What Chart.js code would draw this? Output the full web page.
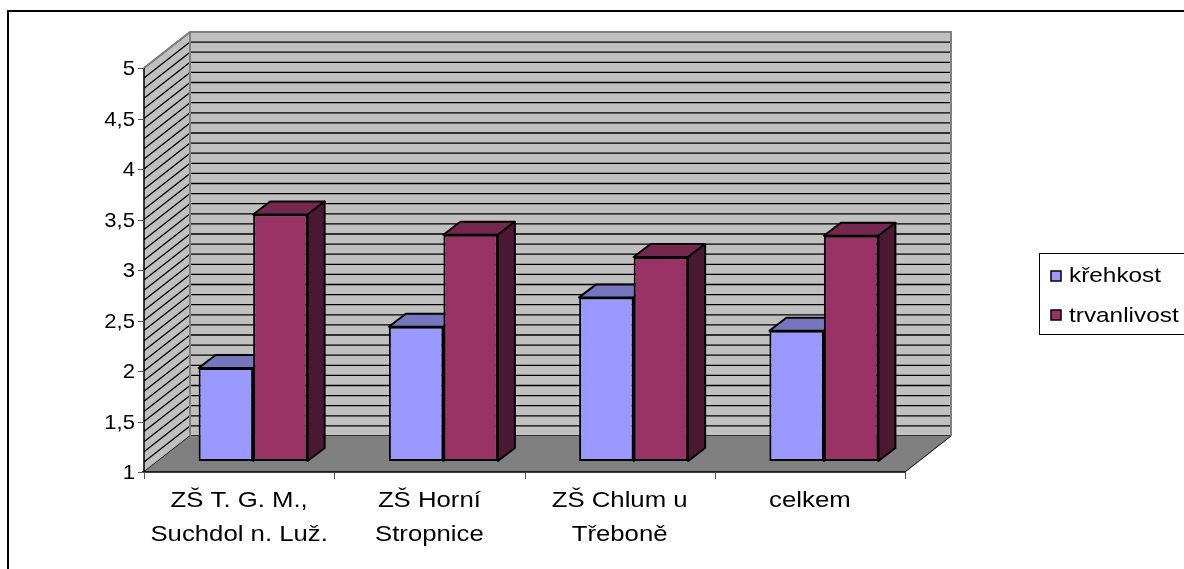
<!DOCTYPE html>
<html>
<head>
<meta charset="utf-8">
<script src="https://cdn.jsdelivr.net/npm/chart.js@4/dist/chart.umd.min.js"></script>
<style>
  html, body { margin: 0; padding: 0; background: #ffffff; }
  #wrap { width: 1184px; height: 569px; }
</style>
</head>
<body>
<div id="wrap"><canvas id="c" width="1184" height="569"></canvas></div>
<script>
// Schools (two-line labels) and the overall average
const categories = [
  ['ZŠ T. G. M.,', 'Suchdol n. Luž.'],
  ['ZŠ Horní', 'Stropnice'],
  ['ZŠ Chlum u', 'Třeboně'],
  ['celkem']
];
const seriesNames = ['křehkost', 'trvanlivost'];
const krehkost = [1.92, 2.33, 2.62, 2.29];
const trvanlivost = [3.44, 3.24, 3.02, 3.23];
const yTickValues = [1, 1.5, 2, 2.5, 3, 3.5, 4, 4.5, 5];
const yTickLabels = ['1', '1,5', '2', '2,5', '3', '3,5', '4', '4,5', '5'];

const FRONT = ['#9999FF', '#993366'];
const TOP = ['#7676BF', '#76274E'];
const SIDE = ['#4C4C80', '#4C1933'];

// oblique projection of the box
const WALL_DX = 46, WALL_DY = -36;     // full depth of the plot box
const BAR_DX = 14, BAR_DY = -11;       // bar front faces sit a bit into the box
const DEPTH_DX = 17, DEPTH_DY = -13;   // thickness of each bar

const FONT = '"Liberation Sans", Arial, sans-serif';

function stretchedText(ctx, text, x, y, size, sx, align) {
  ctx.save();
  ctx.font = size + 'px ' + FONT;
  ctx.textAlign = align;
  ctx.textBaseline = 'alphabetic';
  ctx.fillStyle = '#000';
  ctx.translate(x, y);
  ctx.scale(sx, 1);
  ctx.fillText(text, 0, 0);
  ctx.restore();
}

function poly(ctx, pts, fill, stroke, lw) {
  ctx.beginPath();
  ctx.moveTo(pts[0][0], pts[0][1]);
  for (let i = 1; i < pts.length; i++) ctx.lineTo(pts[i][0], pts[i][1]);
  ctx.closePath();
  if (fill) { ctx.fillStyle = fill; ctx.fill(); }
  if (stroke) { ctx.strokeStyle = stroke; ctx.lineWidth = lw || 1; ctx.stroke(); }
}

const box3d = {
  id: 'box3d',
  beforeDraw(chart) {
    const ctx = chart.ctx;
    const { left, right, top, bottom } = chart.chartArea;
    const y = chart.scales.y;
    const x = chart.scales.x;
    ctx.save();
    ctx.fillStyle = '#ffffff';
    ctx.fillRect(0, 0, chart.width, chart.height);

    // outer frame
    ctx.strokeStyle = '#000';
    ctx.lineWidth = 2;
    ctx.strokeRect(8, 11, 1300, 700);

    // back wall
    poly(ctx, [[left + WALL_DX, top + WALL_DY], [right + WALL_DX, top + WALL_DY],
               [right + WALL_DX, bottom + WALL_DY], [left + WALL_DX, bottom + WALL_DY]], '#C0C0C0');
    // side wall
    poly(ctx, [[left, top], [left + WALL_DX, top + WALL_DY],
               [left + WALL_DX, bottom + WALL_DY], [left, bottom]], '#C0C0C0');

    // minor grid every 0.1
    ctx.strokeStyle = '#000';
    ctx.lineWidth = 1.3;
    for (let k = 0; k <= 40; k++) {
      const v = 1 + k * 0.1;
      const py = y.getPixelForValue(v);
      ctx.beginPath();
      ctx.moveTo(left + WALL_DX, py + WALL_DY);
      ctx.lineTo(right + WALL_DX, py + WALL_DY);
      ctx.moveTo(left, py);
      ctx.lineTo(left + WALL_DX, py + WALL_DY);
      ctx.stroke();
    }

    // wall edges
    ctx.strokeStyle = '#808080';
    ctx.lineWidth = 2;
    ctx.beginPath();
    ctx.moveTo(left, top);
    ctx.lineTo(left + WALL_DX, top + WALL_DY);
    ctx.lineTo(right + WALL_DX, top + WALL_DY);
    ctx.lineTo(right + WALL_DX, bottom + WALL_DY);
    ctx.moveTo(left + WALL_DX, top + WALL_DY);
    ctx.lineTo(left + WALL_DX, bottom + WALL_DY);
    ctx.stroke();

    // floor
    poly(ctx, [[left, bottom], [left + WALL_DX, bottom + WALL_DY],
               [right + WALL_DX, bottom + WALL_DY], [right, bottom]], '#808080');
    ctx.strokeStyle = '#000';
    ctx.lineWidth = 1;
    ctx.beginPath();
    ctx.moveTo(right, bottom);
    ctx.lineTo(right + WALL_DX, bottom + WALL_DY);
    ctx.stroke();

    // value axis
    ctx.strokeStyle = '#000';
    ctx.lineWidth = 1.5;
    ctx.beginPath();
    ctx.moveTo(left, top);
    ctx.lineTo(left, bottom);
    ctx.moveTo(left - 2, bottom);
    ctx.lineTo(right, bottom);
    ctx.stroke();
    ctx.strokeStyle = '#555';
    ctx.lineWidth = 1;
    yTickValues.forEach((v, i) => {
      const py = Math.round(y.getPixelForValue(v)) + 0.5;
      ctx.beginPath();
      ctx.moveTo(left - 6, py);
      ctx.lineTo(left, py);
      ctx.stroke();
      ctx.save();
      ctx.font = '21px ' + FONT;
      ctx.textAlign = 'right';
      ctx.textBaseline = 'middle';
      ctx.fillStyle = '#000';
      ctx.translate(left - 9, py + 1);
      ctx.scale(1.05, 1);
      ctx.fillText(yTickLabels[i], 0, 0);
      ctx.restore();
    });

    // category ticks and labels
    const n = categories.length;
    const step = (right - left) / n;
    for (let i = 0; i <= n; i++) {
      const px = Math.round(left + i * step) + 0.5;
      ctx.beginPath();
      ctx.moveTo(px, bottom);
      ctx.lineTo(px, bottom + 7);
      ctx.stroke();
    }
    categories.forEach((lines, i) => {
      const cx = x.getPixelForValue(i);
      lines.forEach((t, j) => stretchedText(ctx, t, cx, 507 + j * 34, 22, 1.17, 'center'));
    });

    // legend
    ctx.fillStyle = '#fff';
    ctx.fillRect(1039, 253, 200, 81);
    ctx.strokeStyle = '#000';
    ctx.lineWidth = 1;
    ctx.strokeRect(1039.5, 253.5, 200, 81);
    seriesNames.forEach((name, i) => {
      const sy = 271 + i * 39;
      ctx.fillStyle = FRONT[i];
      ctx.fillRect(1051, sy, 10, 10);
      ctx.strokeStyle = '#000';
      ctx.lineWidth = 1.5;
      ctx.strokeRect(1051, sy, 10, 10);
      stretchedText(ctx, name, 1069, 282 + i * 39.5, 21, 1.16, 'left');
    });
    ctx.restore();
  },
  beforeDatasetsDraw(chart) {
    const ctx = chart.ctx;
    ctx.save();
    ctx.lineJoin = 'round';
    chart.data.datasets.forEach((ds, di) => {
      const meta = chart.getDatasetMeta(di);
      meta.data.forEach((el) => {
        const x0 = el.x - el.width / 2 + BAR_DX;
        const x1 = el.x + el.width / 2 + BAR_DX;
        const yt = el.y + BAR_DY;
        const yb = el.base + BAR_DY;
        poly(ctx, [[x0, yt], [x0 + DEPTH_DX, yt + DEPTH_DY], [x1 + DEPTH_DX, yt + DEPTH_DY], [x1, yt]],
             TOP[di], '#000', 2);
        poly(ctx, [[x1, yt], [x1 + DEPTH_DX, yt + DEPTH_DY], [x1 + DEPTH_DX, yb + DEPTH_DY], [x1, yb]],
             SIDE[di], '#000', 2);
      });
    });
    ctx.restore();
    // front faces are drawn by Chart.js, shifted into the box
    ctx.save();
    ctx.translate(BAR_DX, BAR_DY);
  },
  afterDatasetsDraw(chart) {
    chart.ctx.restore();
  }
};

new Chart(document.getElementById('c'), {
  type: 'bar',
  data: {
    labels: categories,
    datasets: [
      { label: seriesNames[0], data: krehkost, base: 1, backgroundColor: FRONT[0], borderColor: '#000',
        borderWidth: 2, borderSkipped: false, clip: false },
      { label: seriesNames[1], data: trvanlivost, base: 1, backgroundColor: FRONT[1], borderColor: '#000',
        borderWidth: 2, borderSkipped: false, clip: false }
    ]
  },
  options: {
    responsive: false,
    animation: false,
    devicePixelRatio: 1,
    layout: { padding: { left: 144, right: 279, top: 68, bottom: 97 } },
    datasets: { bar: { categoryPercentage: 0.573, barPercentage: 1 } },
    scales: {
      x: { display: false, offset: true },
      y: { display: false, min: 1, max: 5, ticks: { stepSize: 0.5 } }
    },
    plugins: { legend: { display: false }, tooltip: { enabled: false }, title: { display: false } }
  },
  plugins: [box3d]
});
</script>
</body>
</html>
